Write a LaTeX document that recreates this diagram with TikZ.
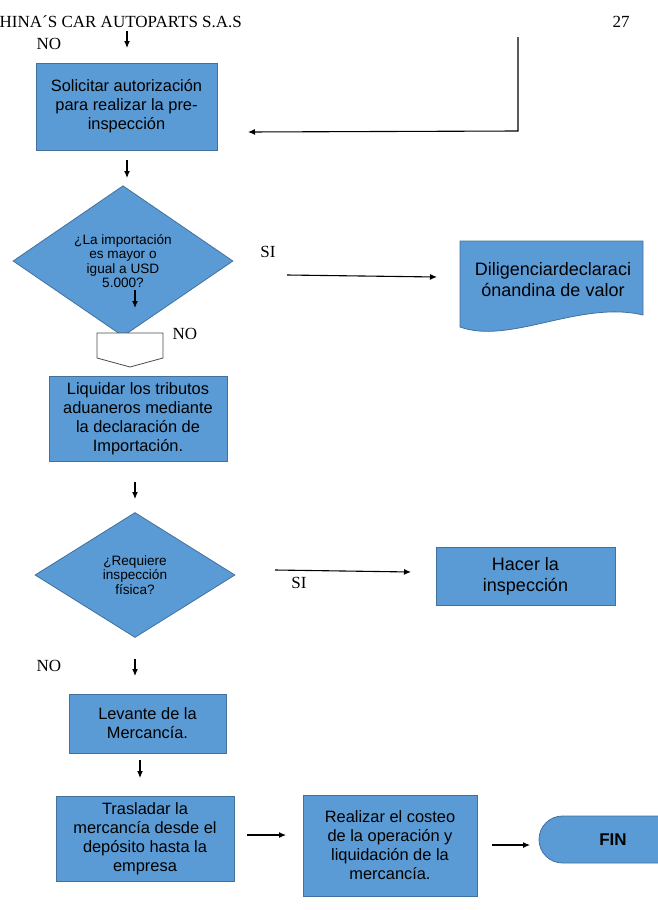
\documentclass[tikz,border=0pt]{standalone}
\usepackage{fontspec}
\setmainfont{Liberation Serif}
\setsansfont{Liberation Sans}
\usepackage{tikz}
\usetikzlibrary{positioning, arrows.meta, shapes.geometric}
\definecolor{boxblue}{HTML}{5B9BD5}
\definecolor{boxline}{HTML}{41719C}
\tikzstyle{line} = [draw, line width=1.1pt, -{Latex[length=7pt,width=6pt]}]
\tikzstyle{block} = [rectangle, draw=boxline, line width=0.8pt, fill=boxblue,
    align=center, inner sep=0pt, font=\sffamily\fontsize{16.4}{19}\selectfont]
\tikzstyle{decision} = [diamond, draw=boxline, line width=0.8pt, fill=boxblue,
    align=center, inner sep=0pt, font=\sffamily\fontsize{13.6}{14.3}\selectfont]
\tikzstyle{tag} = [inner sep=0pt, font=\fontsize{17}{20}\selectfont]

\begin{document}
\begin{tikzpicture}[x=1pt, y=-1pt]
      \useasboundingbox (0,0) rectangle (658,910);
      % Page header
      \node [tag, anchor=west] (header) at (-0.5,22) {HINA´S CAR AUTOPARTS S.A.S};
      \node [tag] (page) at (621,22) {27};
      % Process nodes
      \node [block, minimum width=181pt, minimum height=87pt] (solicitar) at (126.5,106.5)
            {Solicitar autorización\\para realizar la pre-\\inspección};
      \node [decision, minimum width=220pt, minimum height=142pt] (mayor) at (123,261)
            {¿La importación\\es mayor o\\igual a USD\\5.000?};
      \node [block, minimum width=178pt, minimum height=85pt] (liquidar) at (138,418.5)
            {Liquidar los tributos\\aduaneros mediante\\la declaración de\\Importación.};
      \node [decision, minimum width=200pt, minimum height=125pt,
            font=\sffamily\fontsize{13.6}{14.6}\selectfont] (fisica) at (135,575)
            {¿Requiere\\inspección\\física?};
      \node [block, minimum width=179pt, minimum height=58pt,
            font=\sffamily\fontsize{18}{21}\selectfont] (hacer) at (525.5,576)
            {Hacer la\\inspección};
      \node [block, minimum width=157pt, minimum height=59pt] (levante) at (147.5,723.5)
            {Levante de la\\Mercancía.};
      \node [block, minimum width=178pt, minimum height=85pt] (trasladar) at (145,838.5)
            {Trasladar la\\mercancía desde el\\depósito hasta la\\empresa};
      \node [block, minimum width=174pt, minimum height=101pt] (realizar) at (390,845.5)
            {Realizar el costeo\\de la operación y\\liquidación de la\\mercancía.};
      \node [block, minimum width=148pt, minimum height=47pt, rounded corners=23.5pt,
            font=\sffamily\bfseries\fontsize{17}{20}\selectfont] (fin) at (613,839.5) {FIN};
      % Document and off-page connector
      \path [draw=boxline, line width=0.8pt, fill=boxblue] (460,241) -- (643,241) -- (643,315)
            .. controls (580,300) and (510,345) .. (460,327) -- cycle;
      \node [align=center, inner sep=0pt, font=\sffamily\fontsize{18}{21}\selectfont] (decl)
            at (553,279.5) {Diligenciardeclaraci\\ónandina de valor};
      \path [draw=black!70, line width=0.8pt, fill=white] (97,333) -- (163,333) -- (163,358)
            -- (130,367) -- (97,358) -- cycle;
      \coordinate (offpage) at (130,350);
      % Labels
      \node [tag] (no1) at (49,44) {NO};
      \node [tag] (si1) at (268,252) {SI};
      \node [tag] (no2) at (185,334) {NO};
      \node [tag] (si2) at (299,583) {SI};
      \node [tag] (no3) at (49,666) {NO};
      % Arrow ends
      \coordinate (a1s) at (127,31);   \coordinate (a1e) at (127,48);
      \coordinate (r1) at (518,37);    \coordinate (r2) at (518,131);  \coordinate (r3) at (248,132);
      \coordinate (a2s) at (127,160);  \coordinate (a2e) at (127,178);
      \coordinate (s1s) at (287,275);  \coordinate (s1e) at (437,277);
      \coordinate (a3s) at (135,290);  \coordinate (a3e) at (135,308);
      \coordinate (a4s) at (135,482);  \coordinate (a4e) at (135,499);
      \coordinate (s2s) at (275,570);  \coordinate (s2e) at (411,572);
      \coordinate (a5s) at (135,659);  \coordinate (a5e) at (135,676);
      \coordinate (a6s) at (140,760);  \coordinate (a6e) at (140,778);
      \coordinate (h1s) at (247,835);  \coordinate (h1e) at (286,835);
      \coordinate (h2s) at (492,845);  \coordinate (h2e) at (530,845);
      % Draw edges
      \path [line] (a1s) -- (a1e);
      \path [line] (r1) -- (r2) -- (r3);
      \path [line] (a2s) -- (a2e);
      \path [line] (s1s) -- (s1e);
      \path [line] (a3s) -- (a3e);
      \path [line] (a4s) -- (a4e);
      \path [line] (s2s) -- (s2e);
      \path [line] (a5s) -- (a5e);
      \path [line] (a6s) -- (a6e);
      \path [line] (h1s) -- (h1e);
      \path [line] (h2s) -- (h2e);
\end{tikzpicture}
\end{document}
